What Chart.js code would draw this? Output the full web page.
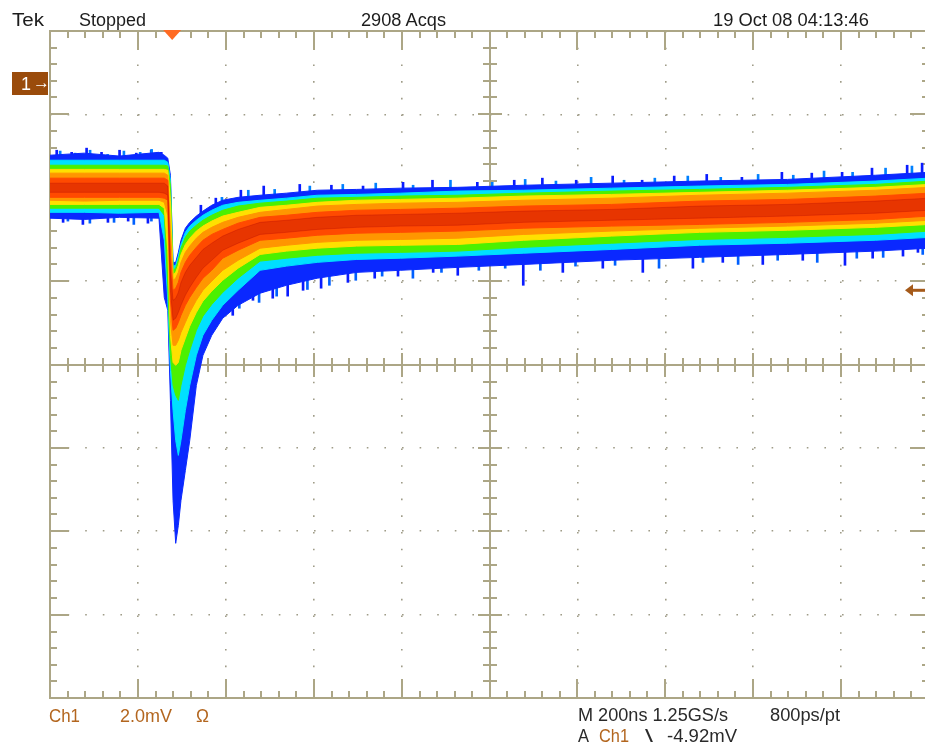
<!DOCTYPE html>
<html><head><meta charset="utf-8">
<script src="https://cdn.jsdelivr.net/npm/chart.js@4.4.1/dist/chart.umd.min.js"></script>
<style>
html,body{margin:0;padding:0;background:#fff;overflow:hidden;width:925px;height:751px;}
#wrap{position:absolute;left:0;top:0;width:940px;height:751px;}
.t{position:absolute;white-space:nowrap;font-family:"Liberation Sans",Arial,sans-serif;font-size:18px;line-height:18px;color:#1c1c1c;transform-origin:0 0;}
#gnd{position:absolute;left:12px;top:72px;width:36px;height:23px;background:#9a4b0b;}
</style></head><body>
<div id="wrap"><canvas id="c" width="940" height="751"></canvas></div>
<div id="gnd"></div>
<div id="labels"></div>
<script>
// ---- scope settings (graticule divisions) ----
const xDivs = [-278,-78,122,322,522,722,922,1122,1322,1522,1722];      // ns, 200 ns/div
const yDivs = [1.3,-0.7,-2.7,-4.7,-6.7,-8.7,-10.7,-12.7,-14.7];       // mV, 2 mV/div
const triggerTime = 0;       // ns
const triggerLevel = -4.92;  // mV

// ---- waveform persistence envelopes (mV) sampled at these times (ns) ----
const times = [-278,-200,-120,-30,-18,-10,-4,2,8,14,20,30,40,55,70,90,115,150,200,260,330,420,520,650,800,1000,1200,1400,1600,1722];

const blueTop   = [-1.68,-1.63,-1.70,-1.61,-1.68,-1.75,-2.16,-4.25,-4.25,-4.01,-3.72,-3.43,-3.29,-3.14,-3.02,-2.88,-2.76,-2.69,-2.64,-2.59,-2.52,-2.50,-2.47,-2.45,-2.40,-2.35,-2.30,-2.26,-2.16,-2.09];
const cyanTop   = [-1.80,-1.80,-1.80,-1.80,-1.80,-1.85,-2.28,-4.34,-4.32,-4.10,-3.82,-3.53,-3.38,-3.24,-3.12,-3.00,-2.88,-2.81,-2.76,-2.71,-2.64,-2.62,-2.59,-2.54,-2.52,-2.47,-2.42,-2.38,-2.30,-2.23];
const greenTop  = [-1.92,-1.92,-1.92,-1.92,-1.92,-1.94,-2.40,-4.44,-4.39,-4.20,-3.91,-3.65,-3.50,-3.36,-3.24,-3.12,-3.00,-2.90,-2.83,-2.78,-2.71,-2.69,-2.66,-2.64,-2.59,-2.54,-2.50,-2.45,-2.38,-2.30];
const yellowTop = [-2.02,-2.02,-2.02,-2.02,-2.02,-2.04,-2.76,-4.54,-4.49,-4.32,-4.06,-3.82,-3.67,-3.50,-3.38,-3.26,-3.14,-3.05,-2.93,-2.88,-2.81,-2.76,-2.74,-2.71,-2.66,-2.62,-2.57,-2.52,-2.45,-2.38];
const orangeTop = [-2.11,-2.11,-2.11,-2.11,-2.11,-2.16,-3.48,-4.68,-4.63,-4.49,-4.25,-4.01,-3.86,-3.67,-3.53,-3.41,-3.29,-3.17,-3.05,-2.98,-2.90,-2.86,-2.83,-2.81,-2.76,-2.71,-2.64,-2.59,-2.52,-2.45];
const redTop    = [-2.23,-2.23,-2.23,-2.23,-2.23,-2.28,-4.08,-4.92,-4.87,-4.73,-4.49,-4.25,-4.08,-3.89,-3.72,-3.58,-3.46,-3.31,-3.17,-3.12,-3.05,-3.00,-2.98,-2.95,-2.90,-2.86,-2.78,-2.74,-2.66,-2.59];
const darkTop   = [-2.35,-2.35,-2.35,-2.35,-2.35,-2.42,-4.44,-5.16,-5.11,-4.97,-4.73,-4.49,-4.32,-4.13,-3.94,-3.79,-3.62,-3.46,-3.29,-3.24,-3.17,-3.12,-3.10,-3.07,-3.02,-2.98,-2.90,-2.86,-2.78,-2.71];
const darkBot   = [-2.57,-2.57,-2.57,-2.57,-2.59,-2.64,-4.92,-5.64,-5.59,-5.45,-5.28,-5.04,-4.85,-4.61,-4.39,-4.20,-3.96,-3.79,-3.58,-3.53,-3.46,-3.41,-3.38,-3.36,-3.29,-3.24,-3.19,-3.14,-3.07,-3.00];
const redBot    = [-2.69,-2.69,-2.69,-2.69,-2.71,-2.76,-5.16,-5.88,-5.83,-5.69,-5.52,-5.28,-5.09,-4.85,-4.63,-4.44,-4.15,-3.96,-3.72,-3.67,-3.60,-3.55,-3.53,-3.50,-3.43,-3.38,-3.34,-3.29,-3.22,-3.14];
const orangeBot = [-2.76,-2.78,-2.76,-2.76,-2.81,-3.12,-5.64,-6.24,-6.24,-6.12,-5.93,-5.69,-5.45,-5.16,-4.92,-4.70,-4.44,-4.20,-3.91,-3.84,-3.77,-3.72,-3.70,-3.67,-3.58,-3.50,-3.43,-3.38,-3.31,-3.24];
const yellowBot = [-2.86,-2.86,-2.86,-2.86,-2.95,-3.96,-6.00,-6.65,-6.72,-6.65,-6.36,-6.07,-5.78,-5.45,-5.18,-4.94,-4.68,-4.39,-4.06,-3.98,-3.91,-3.86,-3.84,-3.82,-3.72,-3.62,-3.53,-3.48,-3.41,-3.34];
const greenBot  = [-2.95,-2.95,-2.95,-2.95,-3.12,-4.80,-6.48,-7.20,-7.44,-7.56,-7.20,-6.72,-6.36,-5.88,-5.54,-5.26,-4.97,-4.63,-4.22,-4.15,-4.08,-4.03,-4.01,-3.98,-3.89,-3.79,-3.70,-3.65,-3.58,-3.50];
const cyanBot   = [-3.05,-3.05,-3.07,-3.05,-3.72,-5.16,-6.84,-7.80,-8.52,-8.88,-8.52,-7.80,-7.20,-6.48,-6.00,-5.64,-5.28,-4.92,-4.44,-4.34,-4.25,-4.18,-4.15,-4.10,-4.03,-3.94,-3.84,-3.79,-3.72,-3.65];
const blueBot   = [-3.19,-3.22,-3.17,-3.19,-5.09,-5.40,-7.56,-9.96,-10.99,-10.56,-9.96,-9.24,-8.52,-7.20,-6.48,-6.00,-5.59,-5.28,-4.99,-4.80,-4.63,-4.49,-4.44,-4.37,-4.30,-4.20,-4.13,-4.06,-3.98,-3.91];

// ---- noise spikes at the outer edges (tip and inner base, mV) ----
const upSpikeT    = [-265,-231,-197,-163,-122,-84,-50,-27,63,97,154,206,288,360,432,523,590,692,776,840,917,1000,1067,1140,1214,1294,1385,1453,1522,1590,1670,1704];
const upSpikeTip  = [-1.56,-1.61,-1.51,-1.61,-1.56,-1.63,-1.56,-1.61,-2.88,-2.71,-2.52,-2.42,-2.38,-2.40,-2.42,-2.33,-2.28,-2.33,-2.28,-2.23,-2.28,-2.18,-2.28,-2.18,-2.14,-2.21,-2.09,-2.11,-2.09,-1.99,-1.92,-1.87];
const upSpikeBase = [-1.9,-1.9,-1.9,-1.9,-1.9,-1.9,-1.9,-1.9,-3.3,-3.1,-2.95,-2.85,-2.8,-2.72,-2.7,-2.68,-2.66,-2.64,-2.62,-2.6,-2.58,-2.56,-2.55,-2.53,-2.51,-2.49,-2.47,-2.45,-2.43,-2.41,-2.38,-2.35];
const dnSpikeT    = [-255,-210,-153,-107,-62,131,177,222,256,291,332,393,454,507,587,643,792,882,973,1064,1178,1246,1337,1428,1524,1587,1656,1690];
const dnSpikeTip  = [-3.29,-3.34,-3.29,-3.26,-3.31,-5.52,-5.16,-5.11,-5.06,-4.92,-4.87,-4.73,-4.63,-4.58,-4.49,-4.56,-4.80,-4.49,-4.39,-4.49,-4.39,-4.25,-4.30,-4.20,-4.32,-4.15,-4.10,-4.01];
const dnSpikeBase = [-3.0,-3.0,-3.0,-3.0,-3.0,-4.9,-4.6,-4.4,-4.3,-4.25,-4.2,-4.15,-4.1,-4.08,-4.05,-4.03,-3.98,-3.93,-3.88,-3.83,-3.8,-3.77,-3.74,-3.71,-3.68,-3.64,-3.6,-3.58];
const up2T    = [-248,-214,-180,-140,-103,-66,-40,120,180,240,320,395,470,555,640,735,810,880,960,1035,1105,1180,1255,1340,1420,1490,1555,1630,1690];
const up2Tip  = [-1.58,-1.63,-1.56,-1.66,-1.58,-1.61,-1.54,-2.69,-2.52,-2.50,-2.42,-2.38,-2.35,-2.40,-2.28,-2.33,-2.26,-2.30,-2.21,-2.28,-2.23,-2.18,-2.21,-2.14,-2.16,-2.06,-2.09,-1.99,-1.94];
const up2Base = [-1.9,-1.9,-1.9,-1.9,-1.9,-1.9,-1.9,-3.0,-2.9,-2.85,-2.75,-2.72,-2.7,-2.68,-2.66,-2.64,-2.62,-2.6,-2.58,-2.56,-2.55,-2.53,-2.51,-2.49,-2.47,-2.45,-2.43,-2.41,-2.38];
const dn2T    = [-235,-185,-130,-85,-45,155,200,240,310,360,420,480,550,615,700,760,840,920,1010,1110,1210,1290,1380,1470,1560,1620,1710];
const dn2Tip  = [-3.26,-3.31,-3.29,-3.34,-3.26,-5.35,-5.21,-5.06,-4.90,-4.80,-4.68,-4.58,-4.63,-4.49,-4.44,-4.39,-4.44,-4.34,-4.32,-4.39,-4.25,-4.30,-4.20,-4.25,-4.15,-4.13,-4.06];
const dn2Base = [-3.0,-3.0,-3.0,-3.0,-3.0,-4.9,-4.6,-4.45,-4.3,-4.25,-4.2,-4.15,-4.1,-4.08,-4.05,-4.03,-3.98,-3.93,-3.88,-3.83,-3.8,-3.77,-3.74,-3.71,-3.68,-3.64,-3.6];

// ---- styles ----
const GRAT = '#aca686';
const DOT = '#9f9c88';
const BROWN = '#b3661f';
const levels = [
  {top: darkTop,   bot: darkBot,   color: 'rgba(170,0,0,0.28)'},
  {top: redTop,    bot: redBot,    color: '#ff4a00'},
  {top: orangeTop, bot: orangeBot, color: '#ff9600'},
  {top: yellowTop, bot: yellowBot, color: '#ffe000'},
  {top: greenTop,  bot: greenBot,  color: '#4cf000'},
  {top: cyanTop,   bot: cyanBot,   color: '#00e0ff'},
  {top: blueTop,   bot: blueBot,   color: '#0a28ff'}
];

const datasets = [];
levels.forEach(L => {
  datasets.push({type:'line', data: times.map((t,i)=>({x:t, y:L.top[i]})), borderColor:L.color, borderWidth:1, pointRadius:0, fill:false});
  datasets.push({type:'line', data: times.map((t,i)=>({x:t, y:L.bot[i]})), borderColor:L.color, backgroundColor:L.color, borderWidth:1, pointRadius:0, fill:'-1'});
});
datasets.push({type:'bar', data: up2T.map((t,i)=>({x:t, y:[up2Tip[i], up2Base[i]]})), backgroundColor:'#0080ff', barThickness:2});
datasets.push({type:'bar', data: dn2T.map((t,i)=>({x:t, y:[dn2Tip[i], dn2Base[i]]})), backgroundColor:'#0060ff', barThickness:2});
datasets.push({type:'bar', data: upSpikeT.map((t,i)=>({x:t, y:[upSpikeTip[i], upSpikeBase[i]]})), backgroundColor:'#0a1cff', barThickness:2});
datasets.push({type:'bar', data: dnSpikeT.map((t,i)=>({x:t, y:[dnSpikeTip[i], dnSpikeBase[i]]})), backgroundColor:'#0a1cff', barThickness:2});

const graticule = {
  id:'graticule',
  beforeDatasetsDraw(chart){
    const {ctx, chartArea:a, scales:{x, y}} = chart;
    const xp = xDivs.map(v=>Math.round(x.getPixelForValue(v)));
    const yp = yDivs.map(v=>Math.round(y.getPixelForValue(v)));
    const cx = xp[5], cy = yp[4];
    ctx.save();
    ctx.strokeStyle = GRAT; ctx.lineWidth = 2;
    ctx.beginPath();
    ctx.rect(a.left, a.top, a.right-a.left, a.bottom-a.top);
    ctx.moveTo(cx, a.top); ctx.lineTo(cx, a.bottom);
    ctx.moveTo(a.left, cy); ctx.lineTo(a.right, cy);
    for (let i=0;i<xp.length-1;i++){
      for (let j=0;j<5;j++){
        if (i===0 && j===0) continue;
        const px = Math.round(xp[i] + (xp[i+1]-xp[i])*j/5);
        const L = j===0 ? 19 : 7, C = j===0 ? 12 : 7;
        ctx.moveTo(px, a.top); ctx.lineTo(px, a.top+L);
        ctx.moveTo(px, a.bottom); ctx.lineTo(px, a.bottom-L);
        ctx.moveTo(px, cy-C); ctx.lineTo(px, cy+C);
      }
    }
    for (let i=0;i<yp.length-1;i++){
      for (let j=0;j<5;j++){
        if (i===0 && j===0) continue;
        const py = Math.round(yp[i] + (yp[i+1]-yp[i])*j/5);
        const L = j===0 ? 19 : 7, C = j===0 ? 12 : 7;
        ctx.moveTo(a.left, py); ctx.lineTo(a.left+L, py);
        ctx.moveTo(a.right, py); ctx.lineTo(a.right-L, py);
        ctx.moveTo(cx-C, py); ctx.lineTo(cx+C, py);
      }
    }
    ctx.stroke();
    ctx.restore();
  },
  afterDatasetsDraw(chart){
    const {ctx, chartArea:a, scales:{x, y}} = chart;
    ctx.save();
    const tx = x.getPixelForValue(triggerTime);
    ctx.fillStyle = '#ff6a22';
    ctx.beginPath(); ctx.moveTo(tx-9, a.top-1); ctx.lineTo(tx+9, a.top-1); ctx.lineTo(tx, a.top+9); ctx.closePath(); ctx.fill();
    const ty = y.getPixelForValue(triggerLevel);
    const tip = a.right - 24;
    ctx.fillStyle = '#a55a1a';
    ctx.beginPath(); ctx.moveTo(tip, ty); ctx.lineTo(tip+8, ty-6); ctx.lineTo(tip+8, ty+6); ctx.closePath(); ctx.fill();
    ctx.fillRect(tip+7, ty-1.5, 24, 3);
    ctx.restore();
  }
};

new Chart(document.getElementById('c'), {
  type:'line',
  data:{datasets},
  options:{
    responsive:false, animation:false, devicePixelRatio:1,
    layout:{padding:{left:50, top:31, right:11, bottom:53}, autoPadding:false},
    plugins:{legend:{display:false}, tooltip:{enabled:false}},
    elements:{line:{tension:0}, point:{radius:0}},
    scales:{
      x:{type:'linear', min:xDivs[0], max:xDivs[xDivs.length-1], offset:false,
         afterBuildTicks:s=>{s.ticks = xDivs.map(v=>({value:v}));},
         ticks:{display:false}, grid:{drawTicks:false, offset:false, color:DOT, lineWidth:1.6},
         border:{display:false, dash:[1.6,15.1]}},
      y:{type:'linear', min:yDivs[yDivs.length-1], max:yDivs[0],
         afterBuildTicks:s=>{s.ticks = yDivs.map(v=>({value:v}));},
         ticks:{display:false}, grid:{drawTicks:false, color:DOT, lineWidth:1.6},
         border:{display:false, dash:[1.6,16.0]}}
    }
  },
  plugins:[graticule]
});

// ---- texts ----
const labelTexts = [
  ["Tek", 12, 26, 32, null],
  ["Stopped", 79, 26, 67, null],
  ["2908 Acqs", 361, 26, 85, null],
  ["19 Oct 08 04:13:46", 713, 26, 156, null],
  ["Ch1", 49, 722, 31, BROWN],
  ["2.0mV", 120, 722, 52, BROWN],
  ["\u03A9", 196, 722, 13, BROWN],
  ["M 200ns 1.25GS/s", 578, 721, 150, '#2a2a2a'],
  ["800ps/pt", 770, 721, 70, '#2a2a2a'],
  ["A", 578, 742, 11, '#2a2a2a'],
  ["Ch1", 599, 742, 30, BROWN],
  ["\\", 645, 742, 8, '#2a2a2a'],
  ["-4.92mV", 667, 742, 70, '#2a2a2a']
];
const host = document.getElementById('labels');
labelTexts.forEach(([txt, left, base, w, col]) => {
  const d = document.createElement('div');
  d.className = 't';
  d.textContent = txt;
  d.style.left = left + 'px';
  d.style.top = (base - 15.2) + 'px';
  if (col) d.style.color = col;
  host.appendChild(d);
  const real = d.getBoundingClientRect().width;
  if (real > 0) d.style.transform = 'scaleX(' + (w/real) + ')';
});
const g = document.getElementById('gnd');
g.innerHTML = '<div class="t" style="color:#fff;left:9px;top:3px;">1</div><div class="t" style="color:#fff;left:21px;top:2px;font-size:17px;">\u2192</div>';
</script></body></html>
